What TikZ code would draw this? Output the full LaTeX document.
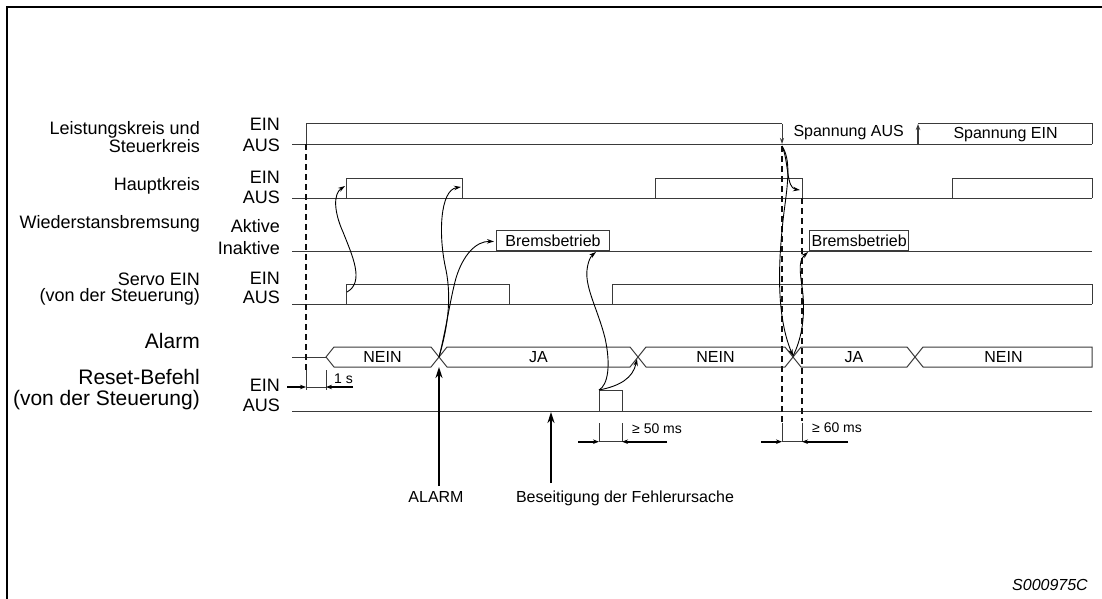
\documentclass[tikz,border=0pt]{standalone}
\usepackage{fontspec}
\setmainfont{Liberation Sans}
\usepackage{tikz}
\usetikzlibrary{arrows.meta, positioning, calc}
\definecolor{waveline}{HTML}{3A3A3A}
\definecolor{guideline}{HTML}{111111}

\begin{document}
\begin{tikzpicture}[
  x=1pt, y=-1pt,
  wave/.style={draw=waveline, line width=1pt},
  guide/.style={draw=guideline, line width=1.8pt, dash pattern=on 6pt off 4pt},
  cause/.style={-{Stealth[length=7pt, width=4.5pt]}, line width=0.9pt, black},
  pointer/.style={-{Stealth[length=11pt, width=7pt]}, line width=2.4pt, black},
  dimarrow/.style={-{Stealth[length=6pt, width=4.5pt]}, line width=1.8pt, black},
  tick/.style={draw=waveline, line width=0.8pt},
  signame/.style={anchor=base east, inner sep=0pt, align=right, font=\fontsize{18}{18.4}\selectfont},
  bigname/.style={anchor=base east, inner sep=0pt, align=right, font=\fontsize{21}{21}\selectfont},
  level/.style={anchor=base east, inner sep=0pt, font=\fontsize{18}{18}\selectfont},
  wavetext/.style={inner sep=0pt, font=\fontsize{16}{16}\selectfont},
  brake/.style={draw=waveline, line width=1pt, anchor=south west, minimum height=20pt,
    inner sep=0pt, font=\fontsize{16}{16}\selectfont},
  dimtext/.style={anchor=base west, inner sep=0pt, font=\fontsize{14}{14}\selectfont},
  note/.style={anchor=base, inner sep=0pt, font=\fontsize{16}{16}\selectfont}
]
  \useasboundingbox (0,0) rectangle (1102,599);

  % Rahmen
  \draw[line width=2pt] (7,599) -- (7,7) -- (1102,7);

  % Signalnamen (base = letzte Zeile)
  \node[signame] (lsname) at (200,152.7) {Leistungskreis und\\Steuerkreis};
  \node[signame] (hkname) at (200,190) {Hauptkreis};
  \node[signame] (wbname) at (200,228.3) {Wiederstansbremsung};
  \node[signame, font=\fontsize{18}{16.5}\selectfont] (svname) at (200,301.5) {Servo EIN\\(von der Steuerung)};
  \node[bigname] (alname) at (200,348.3) {Alarm};
  \node[bigname] (rsname) at (200,405.5) {Reset-Befehl\\(von der Steuerung)};

  % Pegel
  \node[level] (ls1) at (280,130.7) {EIN};
  \node[level] (ls0) at (280,151) {AUS};
  \node[level] (hk1) at (280,183.3) {EIN};
  \node[level] (hk0) at (280,203) {AUS};
  \node[level] (wb1) at (280,232.5) {Aktive};
  \node[level] (wb0) at (280,254) {Inaktive};
  \node[level] (sv1) at (280,284.3) {EIN};
  \node[level] (sv0) at (280,303.3) {AUS};
  \node[level] (rs1) at (280,391.7) {EIN};
  \node[level] (rs0) at (280,411.7) {AUS};

  % Leistungskreis und Steuerkreis
  \draw[wave] (292,144) -- (1092,144);
  \draw[wave] (306,144) -- (306,124) -- (782,124);
  \draw[wave, -{Stealth[length=6pt, width=4pt]}] (782,124) -- (782,144);
  \draw[wave, line width=1.3pt, -{Stealth[length=6pt, width=4.5pt]}] (918,144) -- (918,124);
  \draw[wave] (918,124) -- (1092,124) -- (1092,144);
  \node[wavetext, anchor=base west] (spaus) at (793.3,136.7) {Spannung AUS};
  \node[wavetext, anchor=base west] (spein) at (953.3,138.3) {Spannung EIN};

  % Hauptkreis
  \draw[wave] (292,198) -- (1092,198);
  \draw[wave] (346,198) -- (346,178) -- (462,178) -- (462,198);
  \draw[wave] (655,198) -- (655,178) -- (802,178) -- (802,198);
  \draw[wave] (952,198) -- (952,178) -- (1092,178) -- (1092,198);

  % Wiederstansbremsung
  \draw[wave] (292,251) -- (1092,251);
  \node[brake, minimum width=113.6pt] (brems1) at (495.7,251) {Bremsbetrieb};
  \node[brake, minimum width=99.3pt] (brems2) at (809,251) {Bremsbetrieb};

  % Servo EIN
  \draw[wave] (292,304) -- (1092,304);
  \draw[wave] (346,304) -- (346,284) -- (509,284) -- (509,304);
  \draw[wave] (612,304) -- (612,284) -- (1092,284) -- (1092,304);

  % Alarm
  \draw[wave] (292,357) -- (326,357);
  \foreach \a/\b/\t [count=\i] in {326/439/NEIN, 439/638/JA, 638/793/NEIN, 793/915/JA}{
    \draw[wave] (\a,357) -- (\a+8,347) -- (\b-8,347) -- (\b,357)
      -- (\b-8,367) -- (\a+8,367) -- cycle;
    \node[wavetext] (alarm\i) at ({(\a+\b)/2},357) {\t};
  }
  \draw[wave] (915,357) -- (923,347) -- (1092,347) -- (1092,367) -- (923,367) -- cycle;
  \node[wavetext] (alarm5) at (1003.5,357) {NEIN};

  % Reset-Befehl
  \draw[wave] (292,411) -- (1092,411);
  \draw[wave] (599,411) -- (599,390) -- (622,390) -- (622,411);

  % Hilfslinien
  \draw[guide] (306,144) -- (306,372);
  \draw[guide] (782,146) -- (782,423);
  \draw[guide] (802,198) -- (802,421);

  % Zeiten
  \coordinate (s1a) at (306,387);
  \coordinate (s1b) at (326,387);
  \draw[tick] (306,370) -- (306,390);
  \draw[tick] (326,370) -- (326,390);
  \draw[tick] (s1a) -- (s1b);
  \draw[dimarrow] (287,387) -- (s1a);
  \draw[dimarrow] (353,387) -- (s1b);
  \node[dimtext] (t1s) at (334,383) {1 s};

  \coordinate (m50a) at (599,441.7);
  \coordinate (m50b) at (622,441.7);
  \draw[tick] (599,423) -- (m50a);
  \draw[tick] (622,423) -- (m50b);
  \draw[tick] (m50a) -- (m50b);
  \draw[dimarrow] (578,441.7) -- (m50a);
  \draw[dimarrow] (667,441.7) -- (m50b);
  \node[dimtext] (t50) at (632,433.3) {≥ 50 ms};

  \coordinate (m60a) at (782,441.7);
  \coordinate (m60b) at (802,441.7);
  \draw[tick] (782,423) -- (m60a);
  \draw[tick] (802,423) -- (m60b);
  \draw[tick] (m60a) -- (m60b);
  \draw[dimarrow] (761,441.7) -- (m60a);
  \draw[dimarrow] (848,441.7) -- (m60b);
  \node[dimtext] (t60) at (812,432.7) {≥ 60 ms};

  % Wirkungspfeile
  \coordinate (svrise) at (347,292);
  \coordinate (hkrise) at (345,186);
  \coordinate (alx1) at (439,357);
  \coordinate (hkfall) at (461,187);
  \coordinate (brems1in) at (494,241.5);
  \coordinate (rspulse) at (599,390);
  \coordinate (alx2) at (637,359);
  \coordinate (brems1out) at (596,252);
  \coordinate (lsfall) at (782,146);
  \coordinate (alx3) at (793,356);
  \coordinate (hkfall2) at (800,190);
  \coordinate (brems2in) at (808,252);

  \draw[cause] (svrise) .. controls (365,282) and (352,255) .. (343,232)
    .. controls (334,212) and (333,194) .. (hkrise);
  \draw[cause] (alx1) .. controls (447,330) and (452,300) .. (446,270)
    .. controls (438,235) and (440,190) .. (hkfall);
  \draw[cause] (alx1) .. controls (446,330) and (450,300) .. (456,278)
    .. controls (463,255) and (476,241) .. (brems1in);
  \draw[cause] (rspulse) .. controls (620,386) and (633,378) .. (alx2);
  \draw[cause] (rspulse) .. controls (608,385) and (611,365) .. (605,338)
    .. controls (598,310) and (585,288) .. (587,270)
    .. controls (588,261) and (591,256) .. (brems1out);
  \draw[cause] (lsfall) .. controls (791,160) and (788,182) .. (784,212)
    .. controls (778,262) and (776,315) .. (alx3);
  \draw[cause] (lsfall) .. controls (789,162) and (786,188) .. (hkfall2);
  \draw[cause] (alx3) .. controls (801,340) and (805,320) .. (803,295)
    .. controls (801,276) and (797,262) .. (brems2in);

  % Hinweise unten
  \coordinate (alarmtip) at (439,367);
  \coordinate (alarmfoot) at (439,486);
  \coordinate (fixtip) at (551,412);
  \coordinate (fixfoot) at (551,483);
  \draw[pointer] (alarmfoot) -- (alarmtip);
  \draw[pointer] (fixfoot) -- (fixtip);
  \node[note] (alarmlbl) at (436,502) {ALARM};
  \node[note] (fixlbl) at (625,502) {Beseitigung der Fehlerursache};

  \node[anchor=base east, inner sep=0pt, font=\fontsize{16}{16}\selectfont\itshape] (docid)
    at (1088,590) {S000975C};
\end{tikzpicture}
\end{document}
